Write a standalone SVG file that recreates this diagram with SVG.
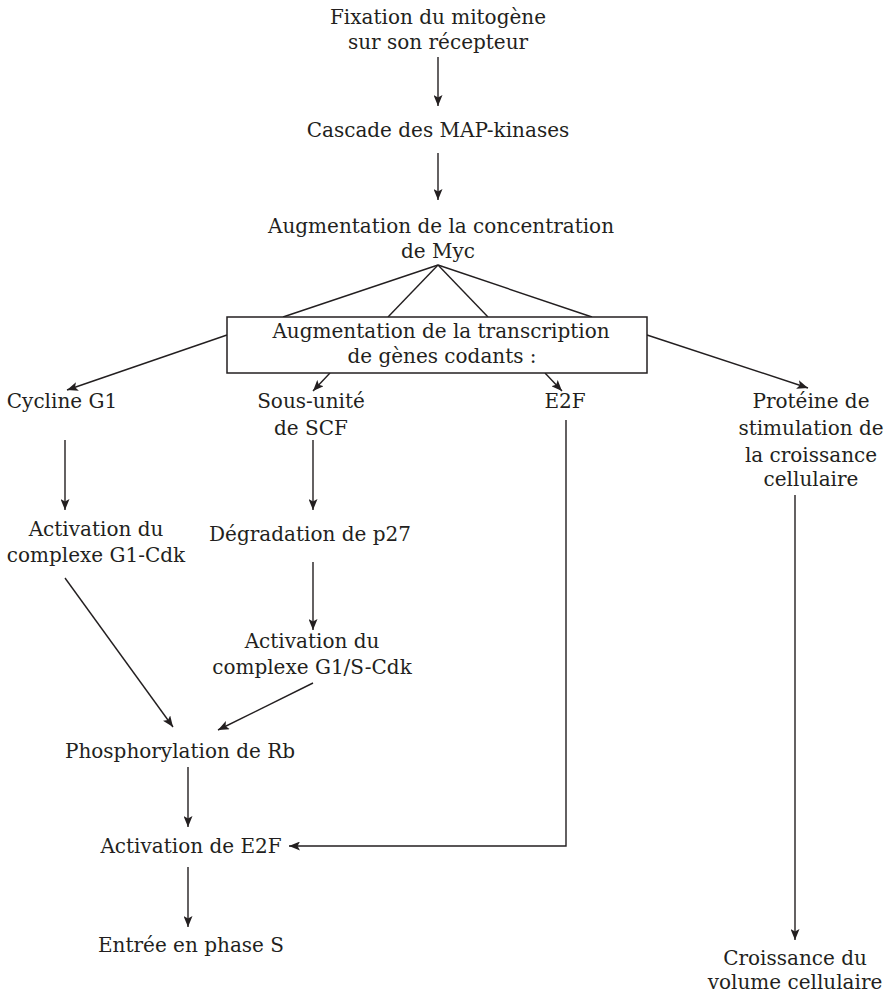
<svg xmlns="http://www.w3.org/2000/svg" width="891" height="995" viewBox="0 0 891 995">
<style>
text{font-family:"DejaVu Serif","Liberation Serif",serif;font-size:20px;fill:#231f20;text-anchor:middle}
.c line,.c polyline{stroke:#231f20;stroke-width:1.4;fill:none}
.arr{marker-end:url(#ah)}
rect.box{fill:#fff;stroke:#231f20;stroke-width:1.5}
</style>
<defs>
<marker id="ah" viewBox="0 0 11 9" refX="11" refY="4.5" markerWidth="11" markerHeight="9" markerUnits="userSpaceOnUse" orient="auto">
<path d="M0,0 L11,4.5 L0,9 L2.5,4.5 Z" fill="#231f20"/>
</marker>
</defs>
<g class="c" id="connectors">
<line class="arr" x1="438" y1="57" x2="438" y2="106"/>
<line class="arr" x1="438" y1="153" x2="438" y2="200"/>
<line x1="438" y1="265" x2="283" y2="317"/>
<line x1="438" y1="265" x2="388" y2="317"/>
<line x1="438" y1="265" x2="488" y2="317"/>
<line x1="438" y1="265" x2="592" y2="317"/>
<line class="arr" x1="227" y1="335" x2="67" y2="390"/>
<line class="arr" x1="330" y1="373" x2="313" y2="391"/>
<line class="arr" x1="545" y1="373" x2="562" y2="391"/>
<line class="arr" x1="647" y1="335" x2="808" y2="388"/>
<line class="arr" x1="65" y1="440" x2="65" y2="510"/>
<line class="arr" x1="313" y1="440" x2="313" y2="510"/>
<line class="arr" x1="313" y1="562" x2="313" y2="630"/>
<line class="arr" x1="65" y1="578" x2="173" y2="727"/>
<line class="arr" x1="313" y1="683" x2="218" y2="730"/>
<line class="arr" x1="188" y1="767" x2="188" y2="827"/>
<polyline class="arr" points="566,420 566,846 289,846"/>
<line class="arr" x1="188" y1="867" x2="188" y2="927"/>
<line class="arr" x1="795" y1="495" x2="795" y2="940"/>
</g>
<g id="fixation"><text x="438" y="24">Fixation du mitogène</text><text x="438" y="49">sur son récepteur</text></g>
<g id="cascade"><text x="438" y="137">Cascade des MAP-kinases</text></g>
<g id="myc"><text x="441" y="233">Augmentation de la concentration</text><text x="438" y="258">de Myc</text></g>
<g id="transcription"><rect class="box" x="227" y="317" width="420" height="56"/><text x="441" y="338">Augmentation de la transcription</text><text x="442" y="363">de gènes codants :</text></g>
<g id="cycline"><text x="62" y="408">Cycline G1</text></g>
<g id="scf"><text x="311" y="408">Sous-unité</text><text x="311" y="435">de SCF</text></g>
<g id="e2f"><text x="565" y="408">E2F</text></g>
<g id="proteine"><text x="811" y="408">Protéine de</text><text x="811" y="435">stimulation de</text><text x="811" y="462">la croissance</text><text x="811" y="486">cellulaire</text></g>
<g id="g1cdk"><text x="96" y="536">Activation du</text><text x="96" y="562">complexe G1-Cdk</text></g>
<g id="p27"><text x="310" y="541">Dégradation de p27</text></g>
<g id="g1scdk"><text x="312" y="648">Activation du</text><text x="312" y="674">complexe G1/S-Cdk</text></g>
<g id="rb"><text x="180" y="758">Phosphorylation de Rb</text></g>
<g id="acte2f"><text x="191" y="853">Activation de E2F</text></g>
<g id="phaseS"><text x="191" y="952">Entrée en phase S</text></g>
<g id="volume"><text x="795" y="965">Croissance du</text><text x="795" y="989">volume cellulaire</text></g>
</svg>
